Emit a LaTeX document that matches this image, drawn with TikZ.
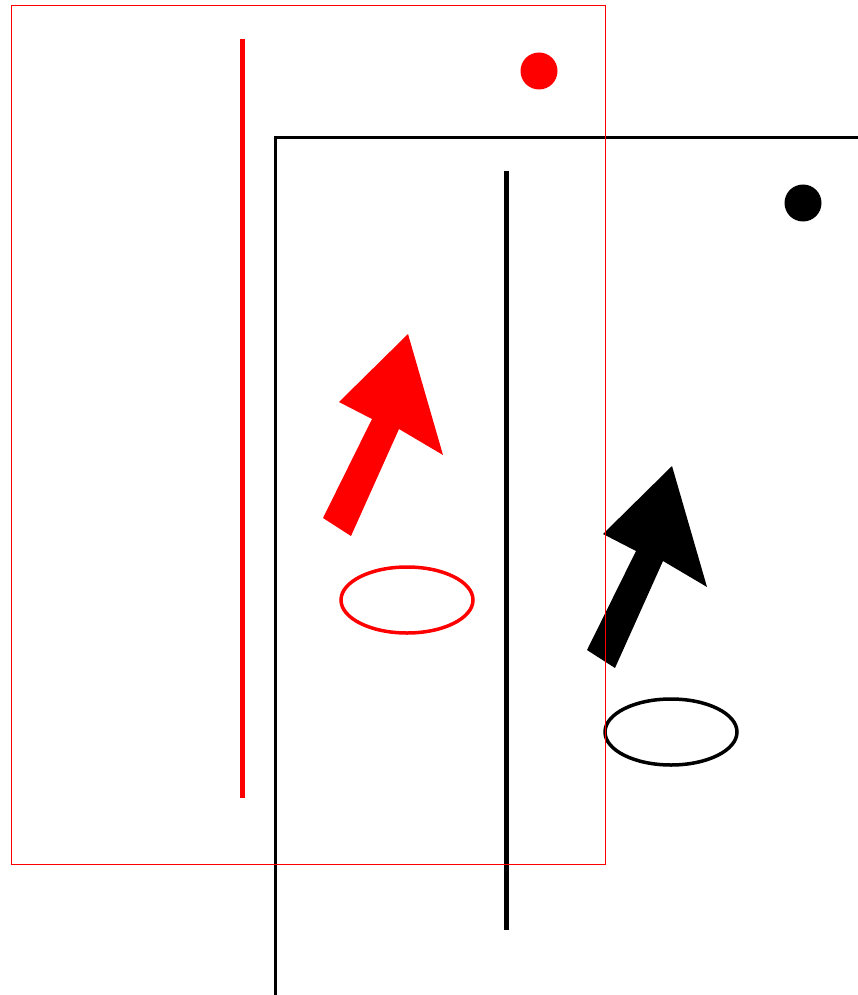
\documentclass[tikz,border=0pt]{standalone}
\usepackage{tikz}
\usetikzlibrary{positioning}

\tikzset{
    frame/.style={line width=#1},
    bar/.style={line width=5pt},
    ring/.style={line width=3.5pt}
}

\begin{document}
\begin{tikzpicture}[x=1pt, y=-1pt]
        \useasboundingbox (0,0) rectangle (858,995);
        \clip (0,0) rectangle (858,995);

        % 两份同样的图: 黑色平移 (264,132), 红色在上层
        \foreach \dx/\dy/\col/\fw in {264/132/black/3pt, 0/0/red/1pt} {
            \begin{scope}[shift={(\dx,\dy)}, \col]
                % 外框
                \draw[frame=\fw] (11,5.5) rectangle (605,864.5);
                % 竖线
                \draw[bar] (242,39) -- (242,798);
                % 圆点
                \fill (539,71) circle (18.5);
                % 箭头
                \fill (323,518) -- (351,536) -- (399,429) -- (443,455)
                    -- (408,334) -- (339,402) -- (372,419) -- cycle;
                % 椭圆
                \draw[ring] (407,600) ellipse (66 and 33);
            \end{scope}
        }

    \end{tikzpicture}
\end{document}
